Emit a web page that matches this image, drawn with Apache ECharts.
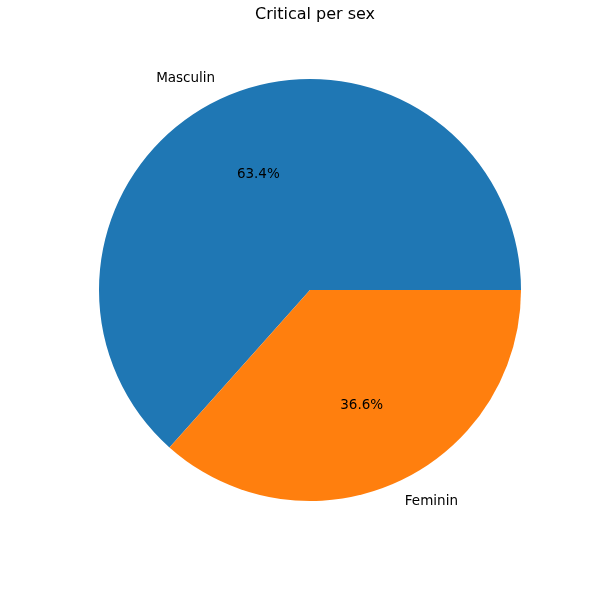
<!DOCTYPE html>
<html>
<head>
<meta charset="utf-8">
<script src="https://cdn.jsdelivr.net/npm/echarts@6/dist/echarts.min.js"></script>
<style>html,body{margin:0;padding:0;background:#fff}#c{width:600px;height:600px}</style>
</head>
<body>
<div id="c"></div>
<script>
const categories = ['Masculin', 'Feminin'];
const values = [63.4, 36.6];
const colors = ['#1f77b4', '#ff7f0e'];

const R = 211;
const chart = echarts.init(document.getElementById('c'));
const font = 'DejaVu Sans';
chart.setOption({
  animation: false,
  title: {
    text: 'Critical per sex',
    left: 310, top: 2, textAlign: 'center',
    textStyle: {fontFamily: font, fontSize: 16, fontWeight: 'normal', color: '#000'}
  },
  series: [
    {
      type: 'pie',
      center: [310, 290],
      radius: [0, R],
      startAngle: 0,
      clockwise: false,
      avoidLabelOverlap: false,
      silent: true,
      data: categories.map((c, i) => ({name: c, value: values[i], itemStyle: {color: colors[i]}})),
      label: {
        show: true, position: 'outside', formatter: '{b}',
        fontFamily: font, fontSize: 13.5, color: '#000',
        distanceToLabelLine: 0
      },
      labelLine: {show: false, length: R * 0.1, length2: 0},
      emphasis: {disabled: true}
    },
    {
      type: 'pie',
      center: [310, 290],
      radius: [0, R * 1.17],
      startAngle: 0,
      clockwise: false,
      avoidLabelOverlap: false,
      silent: true,
      z: 3,
      data: categories.map((c, i) => ({name: c, value: values[i]})),
      itemStyle: {color: 'rgba(0,0,0,0)'},
      label: {
        show: true, position: 'inside',
        formatter: p => p.value.toFixed(1) + '%',
        fontFamily: font, fontSize: 13.5, color: '#000'
      },
      labelLine: {show: false},
      emphasis: {disabled: true}
    }
  ]
});
</script>
</body>
</html>
